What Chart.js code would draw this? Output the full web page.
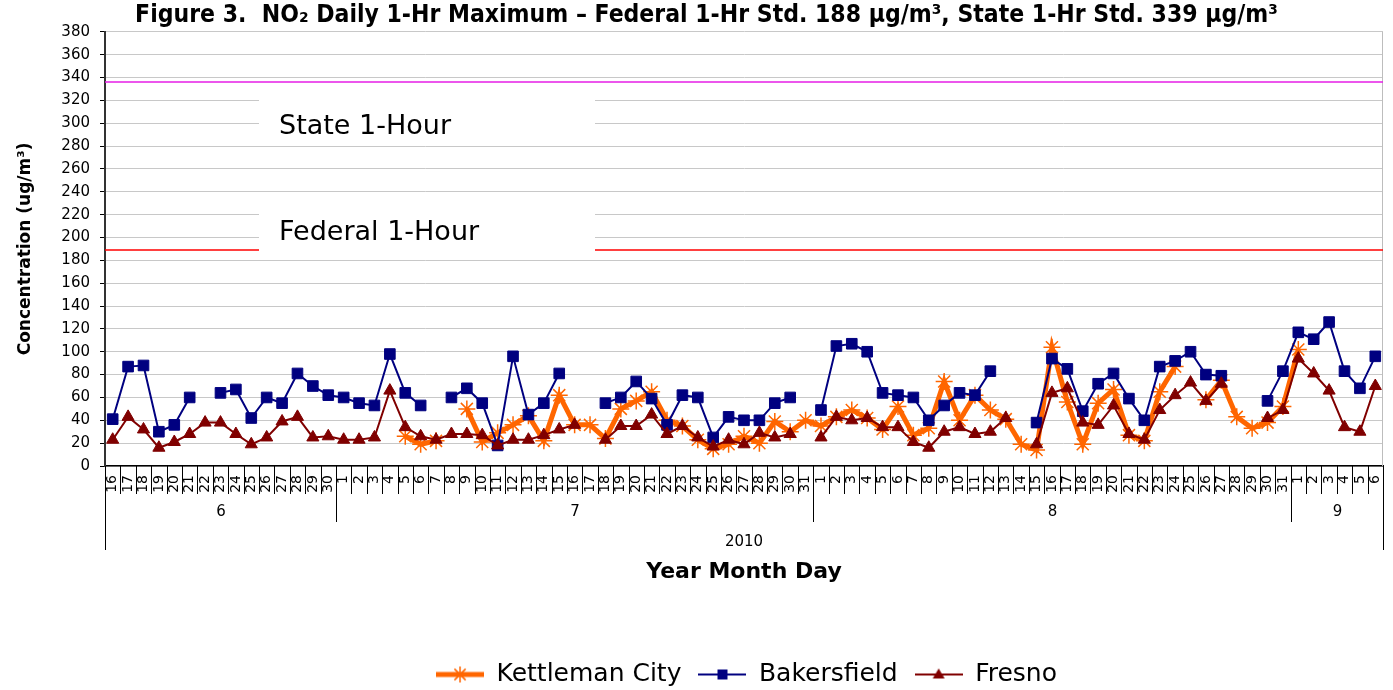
<!DOCTYPE html>
<html>
<head>
<meta charset="utf-8">
<script src="https://cdn.jsdelivr.net/npm/chart.js@4.4.1/dist/chart.umd.min.js"></script>
<style>
  html, body { margin: 0; padding: 0; background: #fff; }
  #chart { display: block; }
</style>
</head>
<body>
<canvas id="chart" width="1393" height="690"></canvas>
<script>
// x categories: 16 Jun 2010 .. 6 Sep 2010
const dayLabels = [
  '16', '17', '18', '19', '20', '21', '22', '23', '24', '25', '26', '27', '28', '29', '30',
  '1', '2', '3', '4', '5', '6', '7', '8', '9', '10', '11', '12', '13', '14', '15', '16',
  '17', '18', '19', '20', '21', '22', '23', '24', '25', '26', '27', '28', '29', '30', '31',
  '1', '2', '3', '4', '5', '6', '7', '8', '9', '10', '11', '12', '13', '14', '15', '16',
  '17', '18', '19', '20', '21', '22', '23', '24', '25', '26', '27', '28', '29', '30', '31',
  '1', '2', '3', '4', '5', '6'
];
const monthLabels = ['6', '7', '8', '9'];
const monthLengths = [15, 31, 31, 6];
const yearLabel = '2010';

const kettleman = [
  null, null, null, null, null, null, null, null, null, null, null, null, null, null, null,
  null, null, null, null, 26, 19, 22, null, 50, 21, 29, 36, 44, 22, 62, 36,
  36, 24, 50, 57, 65, 40, 35, 23, 15, 19, 26, 20, 39, 30, 40,
  35, 43, 49, 42, 32, 52, 27, 33, 74, 40, 62, 49, 41, 19, 14, 104,
  56, 19, 55, 67, 27, 22, 65, 87, null, 58, 75, 43, 33, 38, 52,
  102, null, null, null, null, null
];
const bakersfield = [
  41, 87, 88, 30, 36, 60, null, 64, 67, 42, 60, 55, 81, 70, 62,
  60, 55, 53, 98, 64, 53, null, 60, 68, 55, 18, 96, 45, 55, 81, null,
  null, 55, 60, 74, 59, 36, 62, 60, 25, 43, 40, 40, 55, 60, null,
  49, 105, 107, 100, 64, 62, 60, 40, 53, 64, 62, 83, null, null, 38, 94,
  85, 48, 72, 81, 59, 40, 87, 92, 100, 80, 79, null, null, 57, 83,
  117, 111, 126, 83, 68, 96
];
const fresno = [
  23, 43, 32, 16, 21, 28, 38, 38, 28, 19, 25, 39, 43, 25, 26,
  23, 23, 25, 66, 34, 26, 23, 28, 28, 27, 18, 23, 23, 27, 32, 36,
  null, 23, 35, 35, 45, 28, 35, 25, 17, 23, 19, 29, 25, 28, null,
  25, 43, 40, 42, 34, 34, 21, 16, 30, 34, 28, 30, 42, null, 19, 64,
  68, 38, 36, 53, 28, 23, 49, 62, 73, 57, 72, null, null, 42, 49,
  94, 81, 66, 34, 30, 70
];

const seriesNames = ['Kettleman City', 'Bakersfield', 'Fresno'];
const stateStdLevel = 336;
const federalStdLevel = 189;

const ORANGE = '#ff6600';
const NAVY = '#000080';
const MAROON = '#800000';

function makeLegendIcon(kind, color, lineWidth) {
  const c = document.createElement('canvas');
  c.width = 48;
  c.height = 22;
  const g = c.getContext('2d');
  g.strokeStyle = color;
  g.fillStyle = color;
  g.lineWidth = lineWidth;
  g.beginPath();
  g.moveTo(0, 11);
  g.lineTo(48, 11);
  g.stroke();
  g.lineWidth = 1.5;
  if (kind === 'star') {
    const r = 8;
    g.beginPath();
    g.moveTo(24, 11 - r); g.lineTo(24, 11 + r);
    g.moveTo(24 - r * 0.7, 11 - r * 0.7); g.lineTo(24 + r * 0.7, 11 + r * 0.7);
    g.moveTo(24 - r * 0.7, 11 + r * 0.7); g.lineTo(24 + r * 0.7, 11 - r * 0.7);
    g.stroke();
  } else if (kind === 'rect') {
    g.fillRect(19, 6, 10, 10);
  } else {
    g.beginPath();
    g.moveTo(24, 5); g.lineTo(30, 15); g.lineTo(18, 15);
    g.closePath();
    g.fill();
  }
  return c;
}

const legendIcons = [
  makeLegendIcon('star', ORANGE, 5),
  makeLegendIcon('rect', NAVY, 2),
  makeLegendIcon('triangle', MAROON, 2)
];

// reference lines and their label boxes
const stdBoxes = [
  { text: 'State 1-Hour', top: 328, bottom: 282, textAt: 297 },
  { text: 'Federal 1-Hour', top: 233, bottom: 186, textAt: 204 }
];

const standardsPlugin = {
  id: 'standards',
  beforeDatasetsDraw(chart) {
    const { ctx, chartArea: area, scales: { y } } = chart;
    ctx.save();
    ctx.strokeStyle = '#bdbdbd';
    ctx.lineWidth = 1;
    ctx.beginPath();
    ctx.moveTo(area.right - 0.5, area.top);
    ctx.lineTo(area.right - 0.5, area.bottom);
    ctx.stroke();

    [[stateStdLevel, '#e61ee6'], [federalStdLevel, '#ff0000']].forEach(([v, c]) => {
      const py = y.getPixelForValue(v);
      ctx.strokeStyle = c;
      ctx.lineWidth = 1.5;
      ctx.beginPath();
      ctx.moveTo(area.left, py);
      ctx.lineTo(area.right, py);
      ctx.stroke();
    });

    stdBoxes.forEach(b => {
      const top = y.getPixelForValue(b.top);
      const bottom = y.getPixelForValue(b.bottom);
      ctx.fillStyle = '#fff';
      ctx.fillRect(area.left + 154, top, 336, bottom - top);
      ctx.fillStyle = '#000';
      ctx.font = '27px "DejaVu Sans"';
      ctx.textAlign = 'left';
      ctx.textBaseline = 'middle';
      ctx.fillText(b.text, area.left + 174, y.getPixelForValue(b.textAt));
    });
    ctx.restore();
  }
};

// month / year rows under the day labels
const xGroupsPlugin = {
  id: 'xGroups',
  afterDraw(chart) {
    const { ctx, chartArea: area, scales: { x } } = chart;
    const base = area.bottom;
    const edge = i => Math.round(x.getPixelForValue(i - 0.5)) + 0.5;
    ctx.save();
    ctx.strokeStyle = '#000';
    ctx.lineWidth = 1;
    ctx.beginPath();
    for (let i = 0; i <= dayLabels.length; i++) {
      ctx.moveTo(edge(i), base);
      ctx.lineTo(edge(i), base + 28);
    }
    let start = 0;
    const spans = [];
    monthLengths.forEach(n => { spans.push([start, start + n]); start += n; });
    spans.forEach(([a, b], k) => {
      ctx.moveTo(edge(a), base);
      ctx.lineTo(edge(a), base + (a === 0 ? 84 : 56));
      if (k === spans.length - 1) {
        ctx.moveTo(edge(b), base);
        ctx.lineTo(edge(b), base + 84);
      }
    });
    ctx.stroke();

    ctx.fillStyle = '#000';
    ctx.font = '15px "DejaVu Sans"';
    ctx.textAlign = 'center';
    ctx.textBaseline = 'middle';
    spans.forEach(([a, b], k) => {
      ctx.fillText(monthLabels[k], (edge(a) + edge(b)) / 2, base + 46);
    });
    ctx.fillText(yearLabel, (area.left + area.right) / 2, base + 76);
    ctx.restore();
  }
};

// nudge title and legend to where the original places them
const placementPlugin = {
  id: 'placement',
  afterLayout(chart) {
    chart.titleBlock.left += 13;
    chart.titleBlock.right += 13;
    chart.legend.left += 53;
    chart.legend.right += 53;
  }
};

new Chart(document.getElementById('chart'), {
  type: 'line',
  data: {
    labels: dayLabels,
    datasets: [
      {
        label: seriesNames[0],
        data: kettleman,
        order: 3,
        borderColor: ORANGE,
        backgroundColor: ORANGE,
        borderWidth: 5,
        pointStyle: 'star',
        pointRadius: 8.5,
        pointBorderWidth: 1.5,
        pointBorderColor: ORANGE,
        tension: 0
      },
      {
        label: seriesNames[1],
        data: bakersfield,
        order: 2,
        borderColor: NAVY,
        backgroundColor: NAVY,
        borderWidth: 2,
        pointStyle: 'rect',
        pointRadius: 7.5,
        pointBorderWidth: 1,
        pointBackgroundColor: NAVY,
        pointBorderColor: NAVY,
        tension: 0
      },
      {
        label: seriesNames[2],
        data: fresno,
        order: 1,
        borderColor: MAROON,
        backgroundColor: MAROON,
        borderWidth: 2,
        pointStyle: 'triangle',
        pointRadius: 7,
        pointBorderWidth: 1,
        pointBackgroundColor: MAROON,
        pointBorderColor: MAROON,
        tension: 0
      }
    ]
  },
  options: {
    responsive: false,
    animation: false,
    spanGaps: false,
    layout: { padding: { left: 0, right: 6, top: 0, bottom: -7 } },
    plugins: {
      title: {
        display: true,
        text: 'Figure 3.  NO\u2082 Daily 1-Hr Maximum \u2013 Federal 1-Hr Std. 188 \u00b5g/m\u00b3, State 1-Hr Std. 339 \u00b5g/m\u00b3',
        color: '#000',
        font: { family: '"Liberation Sans Narrow", "Arial Narrow", "DejaVu Sans Condensed", sans-serif', size: 24.5, weight: 'bold', lineHeight: 1.3 },
        padding: { top: 0, bottom: 0 }
      },
      legend: {
        position: 'bottom',
        labels: {
          usePointStyle: true,
          pointStyleWidth: 48,
          color: '#000',
          padding: 17,
          font: { family: '"DejaVu Sans"', size: 25 },
          sort: (a, b) => a.datasetIndex - b.datasetIndex,
          generateLabels(chart) {
            const items = Chart.defaults.plugins.legend.labels.generateLabels(chart);
            items.forEach(it => { it.pointStyle = legendIcons[it.datasetIndex]; });
            return items;
          }
        }
      },
      tooltip: { enabled: false }
    },
    scales: {
      x: {
        offset: true,
        grid: { display: false, drawTicks: false },
        border: { display: true, color: '#000', width: 1.5 },
        ticks: {
          autoSkip: false,
          maxRotation: 90,
          minRotation: 90,
          padding: 9,
          color: '#000',
          font: { family: '"DejaVu Sans"', size: 14 }
        },
        title: {
          display: true,
          text: 'Year Month Day',
          color: '#000',
          font: { family: '"DejaVu Sans"', size: 22, weight: 'bold' },
          padding: { top: 0, bottom: 60 }
        },
        afterFit(scale) {
          scale.height = 179;
          scale.paddingLeft = 0;
          scale.paddingRight = 0;
        }
      },
      y: {
        min: 0,
        max: 380,
        ticks: {
          stepSize: 20,
          padding: 10,
          color: '#000',
          font: { family: '"DejaVu Sans"', size: 15 }
        },
        grid: { color: '#c8c8c8', tickColor: '#000', tickLength: 5 },
        border: { color: '#333', width: 2 },
        title: {
          display: true,
          text: 'Concentration (ug/m\u00b3)',
          color: '#000',
          font: { family: '"DejaVu Sans"', size: 17, weight: 'bold' },
          padding: { top: 15, bottom: 0 }
        },
        afterFit(scale) { scale.width = 105; }
      }
    }
  },
  plugins: [standardsPlugin, xGroupsPlugin, placementPlugin]
});
</script>
</body>
</html>
